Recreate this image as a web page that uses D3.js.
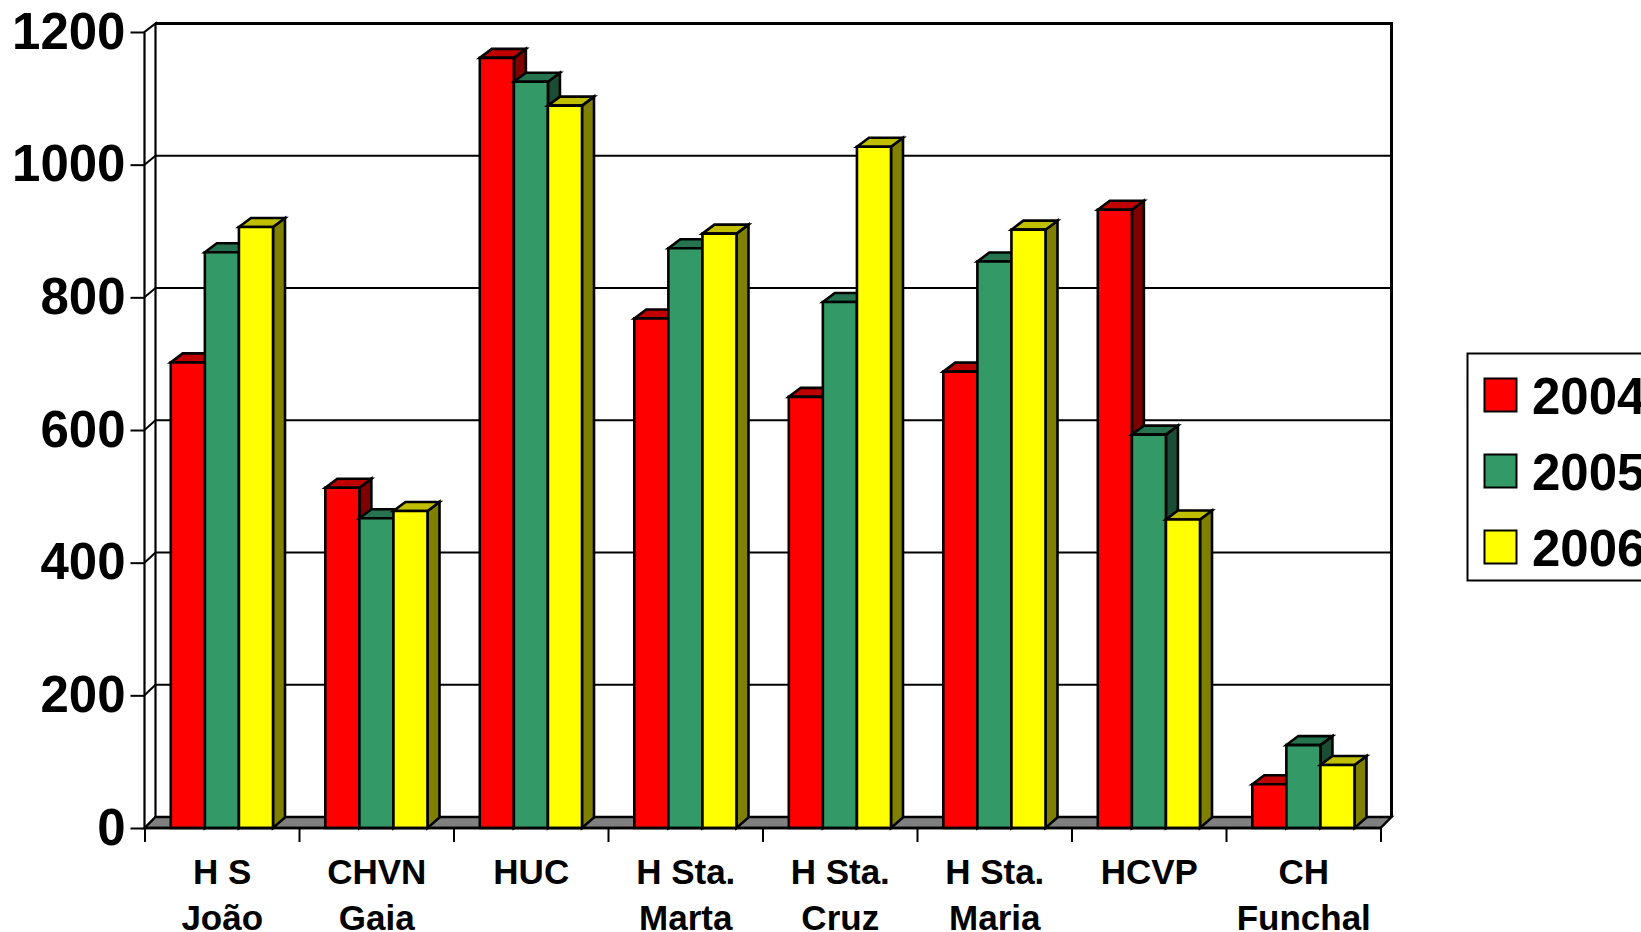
<!DOCTYPE html>
<html><head><meta charset="utf-8">
<script src="https://d3js.org/d3.v7.min.js"></script>
<style>
html,body{margin:0;padding:0;background:#fff;overflow:hidden}
svg{display:block}
text{font-family:"Liberation Sans",Arial,sans-serif;font-weight:bold;fill:#000}
</style></head><body>
<svg id="c" width="1641" height="932"></svg>
<script>
const categories = [["H S","João"],["CHVN","Gaia"],["HUC"],["H Sta.","Marta"],["H Sta.","Cruz"],["H Sta.","Maria"],["HCVP"],["CH","Funchal"]];
const years = ["2004","2005","2006"];
const values2004 = [702,513,1161,768,650,688,932,66];
const values2005 = [868,467,1125,874,793,854,593,125];
const values2006 = [906,478,1089,896,1027,902,465,95];
const yTicks = [0,200,400,600,800,1000,1200];
const frontColors = ["#ff0000","#339966","#ffff00"];
const topColors = ["#bf0000","#267350","#bfbf00"];
const sideColors = ["#800000","#1a4d33","#808000"];
const series = [values2004,values2005,values2006];

const svg = d3.select("#c");
const L=144.5,R=1380.5,B=828,T=32,DX=11;
const BDX=12,BTOP=9,BBOT=10.5;
const y = d3.scaleLinear().domain([0,1200]).range([B,T]);
const yBack = d3.scaleLinear().domain([0,1200]).range([817,23.5]);
const x0 = d3.scaleBand().domain(d3.range(categories.length)).range([L,R]);
const x1 = d3.scaleBand().domain(d3.range(3)).range([26.3,x0.bandwidth()-26]);
const ink="#000";
const poly=(pts,fill,sw=2.6)=>svg.append("polygon").attr("points",pts.map(p=>p.join(",")).join(" "))
  .attr("fill",fill).attr("stroke",ink).attr("stroke-width",sw).attr("stroke-linejoin","miter");

// side wall, back wall and gridlines
yTicks.slice(1,-1).forEach(v=>{
  svg.append("path").attr("fill","none").attr("stroke",ink).attr("stroke-width",2)
    .attr("d",`M${L},${y(v)}L${L+DX},${yBack(v)}L${R+DX},${yBack(v)}`);
});
svg.append("path").attr("fill","none").attr("stroke",ink).attr("stroke-width",2.2)
  .attr("d",`M${L},${B}L${L},${y(1200)}L${L+DX},${yBack(1200)}L${L+DX},${yBack(0)}`);
svg.append("path").attr("fill","none").attr("stroke",ink).attr("stroke-width",3)
  .attr("d",`M${L+DX},${yBack(1200)}L${R+DX},${yBack(1200)}L${R+DX},${yBack(0)}`);
// floor
poly([[L,B],[L+DX,yBack(0)],[R+DX,yBack(0)],[R,B]],"#808080",2.4);

// bars
categories.forEach((c,i)=>{
  series.forEach((s,k)=>{
    const xa=x0(i)+x1(k), xb=xa+x1.bandwidth(), yt=y(s[i]);
    poly([[xb,yt],[xb+BDX,yt-BTOP],[xb+BDX,B-BBOT],[xb,B]],sideColors[k]);
    poly([[xa,yt],[xa+BDX,yt-BTOP],[xb+BDX,yt-BTOP],[xb,yt]],topColors[k]);
    poly([[xa,yt],[xb,yt],[xb,B],[xa,B]],frontColors[k]);
  });
});

// y axis
const gy=svg.append("g").attr("transform",`translate(${L},0)`)
  .call(d3.axisLeft(y).tickValues(yTicks).tickFormat(d3.format("d")).tickSize(14).tickPadding(5));
gy.select(".domain").remove();
gy.selectAll("line").attr("stroke",ink).attr("stroke-width",2);
gy.selectAll("text").style("font-size","51px").attr("dy","0.32em");

// x axis
svg.append("line").attr("x1",L).attr("x2",R).attr("y1",B).attr("y2",B).attr("stroke",ink).attr("stroke-width",2.4);
const xBound=d3.scaleLinear().domain([0,categories.length]).range([L,R]);
const gb=svg.append("g").attr("transform",`translate(0,${B})`)
  .call(d3.axisBottom(xBound).tickValues(d3.range(categories.length+1)).tickSize(14).tickFormat(""));
gb.select(".domain").remove();
gb.selectAll("line").attr("stroke",ink).attr("stroke-width",2);
const gx=svg.append("g").attr("transform",`translate(0.5,${B})`)
  .call(d3.axisBottom(x0).tickSize(0).tickFormat(""));
gx.select(".domain").remove();
gx.selectAll(".tick text").each(function(d){
  const t=d3.select(this).attr("y",0).attr("dy",null).style("font-size","35px").attr("text-anchor","middle");
  categories[d].forEach((ln,j)=>t.append("tspan").attr("x",0).attr("y",56+j*46).text(ln));
});

// legend
svg.append("rect").attr("x",1467.5).attr("y",353.5).attr("width",220).attr("height",227)
  .attr("fill","#fff").attr("stroke",ink).attr("stroke-width",2);
const ly=d3.scalePoint().domain(years).range([395,547]);
years.forEach((yr,k)=>{
  svg.append("rect").attr("x",1484.5).attr("y",ly(yr)-16.5).attr("width",32).attr("height",33)
    .attr("fill",frontColors[k]).attr("stroke",ink).attr("stroke-width",2);
  svg.append("text").attr("x",1532).attr("y",ly(yr)+19).style("font-size","51px").text(yr);
});
</script></body></html>
